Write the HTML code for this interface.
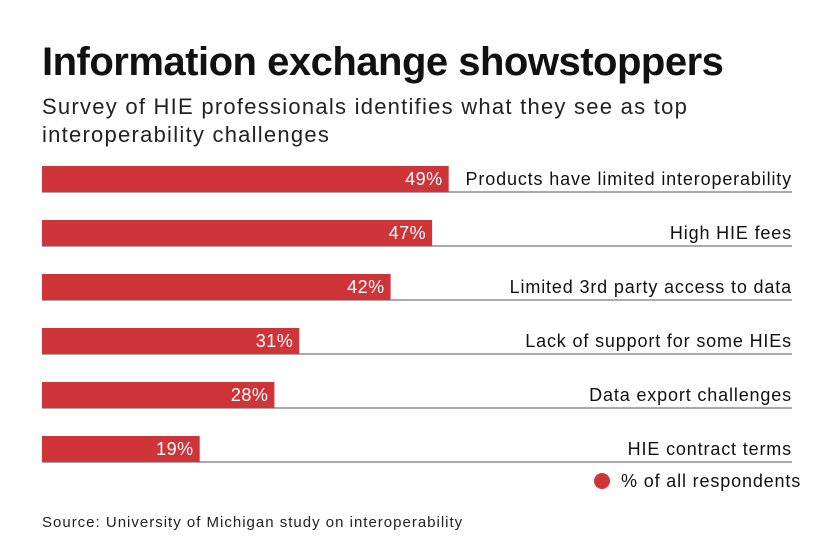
<!DOCTYPE html>
<html><head><meta charset="utf-8"><style>
body{margin:0;background:#fff;width:840px;height:547px;overflow:hidden;font-family:"Liberation Sans",sans-serif;color:#111}
.t{position:absolute;left:42px;top:40px;font-size:40px;font-weight:bold;letter-spacing:-0.5px}
.s{position:absolute;left:42px;top:93px;font-size:22px;line-height:28px;color:#222;width:760px;letter-spacing:1.25px}
.src{position:absolute;left:42px;top:514px;font-size:15px;color:#222;letter-spacing:1px}
</style></head><body>
<div class="t">Information exchange showstoppers</div>
<div class="s">Survey of HIE professionals identifies what they see as top<br>interoperability challenges</div>
<svg id="c" width="840" height="547" style="position:absolute;left:0;top:0"></svg>
<div class="src">Source: University of Michigan study on interoperability</div>
<script>
const categories=["Products have limited interoperability","High HIE fees","Limited 3rd party access to data","Lack of support for some HIEs","Data export challenges","HIE contract terms"];
const values=[49,47,42,31,28,19];
const svg=document.getElementById('c');
const NS='http://www.w3.org/2000/svg';
const x0=42,pxPer=8.3,rowTop=166,step=54,barH=26,right=792;
function x(v){return x0+v*pxPer;}
function y(i){return rowTop+i*step;}
categories.forEach((cat,i)=>{
  const g=document.createElementNS(NS,'g');
  
  
  const ln=document.createElementNS(NS,'line');
  
  
  ln.setAttribute('x1',x0);ln.setAttribute('x2',right);ln.setAttribute('y1',y(i)+barH);ln.setAttribute('y2',y(i)+barH);
  ln.setAttribute('stroke','#777');ln.setAttribute('stroke-width','1.2');
  g.appendChild(ln);
  const r=document.createElementNS(NS,'rect');
  
  
  r.setAttribute('x',x0);r.setAttribute('y',y(i));r.setAttribute('width',x(values[i])-x0);r.setAttribute('height',barH);
  r.setAttribute('fill','#cf3538');
  g.appendChild(r);
  const v=document.createElementNS(NS,'text');
  
  
  v.setAttribute('x',x(values[i])-6);v.setAttribute('y',y(i)+19);v.setAttribute('text-anchor','end');
  v.setAttribute('fill','#fff');v.setAttribute('font-size','18');v.setAttribute('font-family','Liberation Sans, sans-serif');
  v.setAttribute('letter-spacing','0.5');
  v.textContent=values[i]+'%';
  g.appendChild(v);
  const l=document.createElementNS(NS,'text');
  
  
  l.setAttribute('x',right);l.setAttribute('y',y(i)+19);l.setAttribute('text-anchor','end');
  l.setAttribute('fill','#111');l.setAttribute('font-size','18');l.setAttribute('font-family','Liberation Sans, sans-serif');
  l.setAttribute('letter-spacing','0.85');
  l.textContent=cat;
  g.appendChild(l);
  svg.appendChild(g);
});
const lg=document.createElementNS(NS,'g');


const dot=document.createElementNS(NS,'circle');


dot.setAttribute('cx',602);dot.setAttribute('cy',481);dot.setAttribute('r',8);dot.setAttribute('fill','#cf3538');
lg.appendChild(dot);
const lt=document.createElementNS(NS,'text');


lt.setAttribute('x',621);lt.setAttribute('y',487);lt.setAttribute('font-size','18');lt.setAttribute('fill','#111');lt.setAttribute('font-family','Liberation Sans, sans-serif');
lt.setAttribute('letter-spacing','0.85');
lt.textContent='% of all respondents';
lg.appendChild(lt);
svg.appendChild(lg);
</script>
</body></html>
